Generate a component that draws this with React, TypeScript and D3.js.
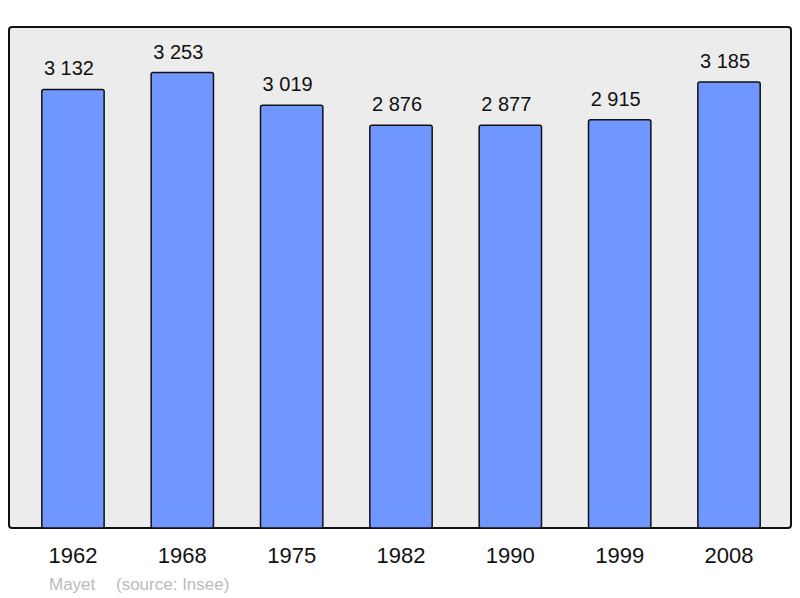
import { useEffect, useRef } from 'react';
import * as d3 from 'd3';

const years = ['1962', '1968', '1975', '1982', '1990', '1999', '2008'];
const population = [3132, 3253, 3019, 2876, 2877, 2915, 3185];
const commune = 'Mayet';
const source = '(source: Insee)';

const width = 800;
const height = 598;

const App = () => {
  const svgRef = useRef<SVGSVGElement>(null);

  useEffect(() => {
    const svg = d3.select(svgRef.current);
    svg.selectAll('*').remove();

    const panel = { left: 9, top: 27, right: 791, bottom: 528 };
    const font = 'Liberation Sans, Arial, sans-serif';

    // fond du graphique
    svg.append('rect')
      .attr('x', panel.left)
      .attr('y', panel.top)
      .attr('width', panel.right - panel.left)
      .attr('height', panel.bottom - panel.top)
      .attr('rx', 3)
      .attr('fill', '#ececec')
      .attr('stroke', '#111')
      .attr('stroke-width', 2);

    const x = d3.scaleBand<string>()
      .domain(years)
      .range([9, 793])
      .paddingInner(0.43)
      .paddingOuter(0.3);

    const y = d3.scaleLinear()
      .domain([0, d3.max(population)! * 1.1])
      .range([panel.bottom, panel.top]);

    const data = years.map((year, i) => ({ year, value: population[i] }));

    // barres
    svg.selectAll('.bar')
      .data(data)
      .enter().append('rect')
      .attr('class', 'bar')
      .attr('x', d => x(d.year)!)
      .attr('y', d => y(d.value))
      .attr('width', x.bandwidth())
      .attr('height', d => y(0) - y(d.value))
      .attr('rx', 2)
      .attr('fill', '#7096ff')
      .attr('stroke', '#111')
      .attr('stroke-width', 1.5);

    // valeurs au-dessus des barres
    svg.selectAll('.value')
      .data(data)
      .enter().append('text')
      .attr('class', 'value')
      .attr('x', d => x(d.year)! + x.bandwidth() / 2 - 4)
      .attr('y', d => y(d.value) - 14)
      .attr('text-anchor', 'middle')
      .attr('font-family', font)
      .attr('font-size', '20px')
      .attr('fill', '#111')
      .text(d => d3.format(',')(d.value).replace(',', ' '));

    // années
    svg.selectAll('.year')
      .data(data)
      .enter().append('text')
      .attr('class', 'year')
      .attr('x', d => x(d.year)! + x.bandwidth() / 2)
      .attr('y', 563)
      .attr('text-anchor', 'middle')
      .attr('font-family', font)
      .attr('font-size', '22px')
      .attr('fill', '#111')
      .text(d => d.year);

    // légende
    svg.append('text')
      .attr('x', 49)
      .attr('y', 590)
      .attr('font-family', font)
      .attr('font-size', '17px')
      .attr('fill', '#bbb')
      .text(commune);

    svg.append('text')
      .attr('x', 116)
      .attr('y', 590)
      .attr('font-family', font)
      .attr('font-size', '17px')
      .attr('fill', '#bbb')
      .text(source);
  }, []);

  return (
    <svg
      ref={svgRef}
      width={width}
      height={height}
      style={{ position: 'absolute', left: 0, top: 0, background: '#fff' }}
    />
  );
};

export default App;
